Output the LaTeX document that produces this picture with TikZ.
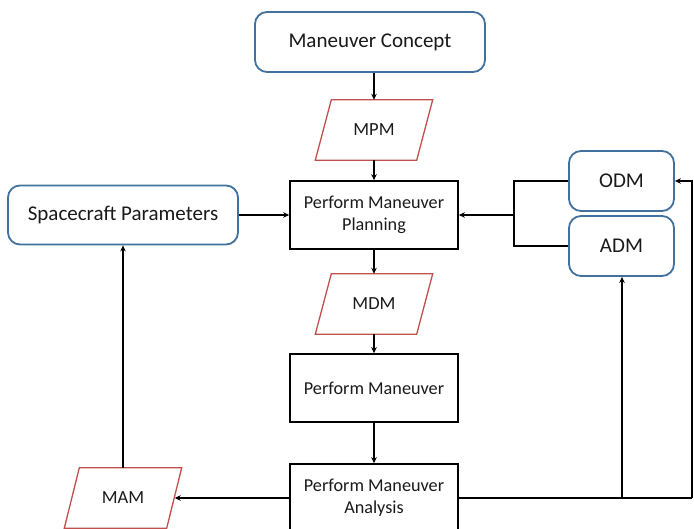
\documentclass[tikz,border=0pt]{standalone}
\usepackage{fontspec}
\setmainfont{Carlito}
\usetikzlibrary{arrows.meta}
\definecolor{bblue}{HTML}{41719C}
\definecolor{rred}{HTML}{C0504D}
\definecolor{txt}{HTML}{1A1A1A}
\begin{document}
\begin{tikzpicture}[x=1pt,y=-1pt,
 rbox/.style={draw=bblue, line width=1.8pt, rounded corners=12pt, fill=white, align=center, text=txt, font=\fontsize{21}{24}\selectfont, inner sep=0pt},
 pbox/.style={draw=black, line width=1.6pt, align=center, text=txt, font=\fontsize{18.2}{22}\selectfont, minimum width=168pt, minimum height=68pt, inner sep=0pt},
 pdata/.style={font=\fontsize{18.5}{22}\selectfont, text=txt, minimum width=117pt, minimum height=60pt, inner sep=0pt},
 para/.style={draw=rred, line width=1.3pt},
 conn/.style={line width=1.6pt, -{Stealth[length=6pt,width=5.5pt]}},
 plain/.style={line width=1.6pt}
]
\useasboundingbox (0,0) rectangle (694,529);
\clip (0,0) rectangle (694,529);
% nodes
\node[rbox, minimum width=230pt, minimum height=60pt] (mc) at (370,42) {Maneuver Concept};
\node[pdata] (mpm) at (374,130) {MPM};
\draw[para] ([xshift=16pt]mpm.north west) -- (mpm.north east) -- ([xshift=-16pt]mpm.south east) -- (mpm.south west) -- cycle;
\node[pbox] (plan) at (374,215) {Perform Maneuver\\Planning};
\node[rbox, minimum width=230pt, minimum height=59pt] (sp) at (123,215) {Spacecraft Parameters};
\node[rbox, minimum width=105pt, minimum height=60pt] (odm) at (621.5,181) {ODM};
\node[rbox, minimum width=105pt, minimum height=60pt] (adm) at (621.5,246) {ADM};
\node[pdata] (mdm) at (374,304) {MDM};
\draw[para] ([xshift=16pt]mdm.north west) -- (mdm.north east) -- ([xshift=-16pt]mdm.south east) -- (mdm.south west) -- cycle;
\node[pbox] (pm) at (374,388) {Perform Maneuver};
\node[pbox] (pa) at (374,498) {Perform Maneuver\\Analysis};
\node[pdata] (mam) at (123,498) {MAM};
\draw[para] ([xshift=15pt]mam.north west) -- (mam.north east) -- ([xshift=-15pt]mam.south east) -- (mam.south west) -- cycle;
% coordinates
\coordinate (j) at (514,215);
\coordinate (r) at (692,498);
\coordinate (b) at (622,498);
% connectors
\draw[conn] (mc.south -| mpm.north) -- (mpm.north);
\draw[conn] (mpm.south) -- (plan.north);
\draw[conn] (plan.south) -- (mdm.north);
\draw[conn] (mdm.south) -- (pm.north);
\draw[conn] (pm.south) -- (pa.north);
\draw[conn] (sp.east) -- (plan.west);
\draw[plain] (odm.west) -| (j) |- (adm.west);
\draw[conn] (j) -- (plan.east);
\draw[conn] (mam.north) -- (sp.south -| mam.north);
\draw[conn] (pa.west) -- ([xshift=-7pt]mam.east);
\draw[plain] (pa.east) -- (r);
\draw[conn] (b) -- (b |- adm.south);
\draw[conn] (r) |- (odm.east);
\end{tikzpicture}
\end{document}
